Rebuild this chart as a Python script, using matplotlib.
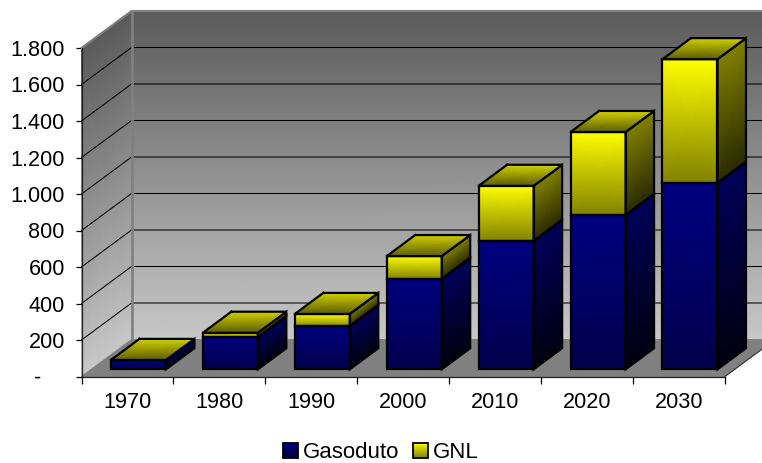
import matplotlib
matplotlib.use("Agg")
import matplotlib.pyplot as plt
import numpy as np
from matplotlib.colors import LinearSegmentedColormap, to_rgb
from matplotlib.patches import Patch, Rectangle
from matplotlib.legend_handler import HandlerBase

plt.rcParams['font.family'] = ['Liberation Sans', 'DejaVu Sans']

years = ['1970', '1980', '1990', '2000', '2010', '2020', '2030']
gasoduto = [51, 177, 237, 495, 703, 845, 1021]
gnl = [0, 23, 66, 125, 302, 455, 678]
y_ticks = [0, 200, 400, 600, 800, 1000, 1200, 1400, 1600, 1800]
y_labels = ['-    ', '200', '400', '600', '800', '1.000', '1.200', '1.400', '1.600', '1.800']

W, H = 762, 463
fig = plt.figure(figsize=(W / 100, H / 100), dpi=100, facecolor='white')
L, R, B, T = 81.5, 725.0, 376.5, 48.0
ax = fig.add_axes([L / W, 1 - B / H, (R - L) / W, (B - T) / H])
ax.set_xlim(0, 7)
ax.set_ylim(0, 1800)
ax.patch.set_visible(False)

# oblique projection expressed in data units per unit of depth
DX = 50 * 7 / (R - L)
DY = 37 * 1800 / (B - T)


def proj(x, y, d):
    return x + d * DX, y + d * DY


def face(p_tl, p_tr, p_bl, p_br, c_top, c_bot, z, edge='black', lw=1.6):
    X = np.array([[p_bl[0], p_br[0]], [p_tl[0], p_tr[0]]])
    Y = np.array([[p_bl[1], p_br[1]], [p_tl[1], p_tr[1]]])
    C = np.array([[0.0, 0.0], [1.0, 1.0]])
    cmap = LinearSegmentedColormap.from_list('f', [c_bot, c_top])
    ax.pcolormesh(X, Y, C, shading='gouraud', cmap=cmap, vmin=0, vmax=1,
                  zorder=z, clip_on=False, antialiased=False)
    if edge:
        ax.plot([p_tl[0], p_tr[0], p_br[0], p_bl[0], p_tl[0]],
                [p_tl[1], p_tr[1], p_br[1], p_bl[1], p_tl[1]],
                color=edge, lw=lw, zorder=z + 0.1, clip_on=False,
                solid_joinstyle='miter', solid_capstyle='projecting')


TOP = y_ticks[-1]
# walls and floor
face(proj(0, TOP, 1), proj(7, TOP, 1), proj(0, 0, 1), proj(7, 0, 1), '#5a5a5a', '#c8c8c8', 1, edge=None)
face(proj(0, TOP, 0), proj(0, TOP, 1), proj(0, 0, 0), proj(0, 0, 1), '#5a5a5a', '#c8c8c8', 1, edge=None)
face(proj(0, 0, 1), proj(7, 0, 1), proj(0, 0, 0), proj(7, 0, 0), '#808080', '#808080', 1, edge=None)

for t in y_ticks[1:-1]:
    xs, ys = zip(proj(0, t, 0), proj(0, t, 1), proj(7, t, 1))
    ax.plot(xs, ys, color='black', lw=0.75, zorder=1.5, clip_on=False)
xs, ys = zip(proj(0, TOP, 0), proj(0, TOP, 1), proj(7, TOP, 1))
ax.plot(xs, ys, color='#808080', lw=1.5, zorder=1.6, clip_on=False)
xs, ys = zip(proj(0, 0, 1), proj(0, TOP, 1))
ax.plot(xs, ys, color='#808080', lw=1.9, zorder=1.6, clip_on=False)
xs, ys = zip(proj(7, 0, 0), proj(7, 0, 1))
ax.plot(xs, ys, color='#333333', lw=0.75, zorder=1.6, clip_on=False)

# bars
d0, d1 = 0.195, 0.765
bw = 55 * 7 / (R - L)
shift = 1.2 * 7 / (R - L)
sc = {'blue': ('#000080', '#00004a', '#00005a', '#000010'),
      'yellow': ('#ffff00', '#808000', '#808000', '#2a2a00')}
for i, (g, n) in enumerate(zip(gasoduto, gnl)):
    x0 = i + 0.5 - bw / 2 + shift
    x1 = x0 + bw
    z = 3 + i
    segs = [(0, g, 'blue')] + ([(g, g + n, 'yellow')] if n > 0 else [])
    for lo, hi, name in segs:
        c = sc[name]
        face(proj(x0, hi, d0), proj(x1, hi, d0), proj(x0, lo, d0), proj(x1, lo, d0), c[0], c[1], z)
        face(proj(x1, hi, d0), proj(x1, hi, d1), proj(x1, lo, d0), proj(x1, lo, d1), c[2], c[3], z)
    h = g + n
    face(proj(x0, h, d1), proj(x1, h, d1), proj(x0, h, d0), proj(x1, h, d0), '#d2d200', '#5a5a00', z + 0.3)

# axes
for s in ('top', 'right'):
    ax.spines[s].set_visible(False)
for s in ('left', 'bottom'):
    ax.spines[s].set_linewidth(0.9)
    ax.spines[s].set_color('#202020')
    ax.spines[s].set_zorder(2)
ax.set_yticks(y_ticks)
ax.set_yticklabels(y_labels)
ax.set_xticks(range(8))
ax.set_xticklabels([])
ax.set_xticks(np.arange(7) + 0.5, years, minor=True)
ax.tick_params(axis='y', which='major', length=4, width=0.9, pad=8, labelsize=15.6)
ax.tick_params(axis='x', which='major', length=5, width=0.9)
ax.tick_params(axis='x', which='minor', length=0, pad=11, labelsize=15.6)


class GradientHandler(HandlerBase):
    def __init__(self, c_top, c_bot):
        super().__init__()
        self.c_top, self.c_bot = np.array(to_rgb(c_top)), np.array(to_rgb(c_bot))

    def create_artists(self, legend, orig_handle, xdescent, ydescent, width, height, fontsize, trans):
        arts = []
        n = 16
        for k in range(n):
            f = (k + 0.5) / n
            col = self.c_bot * (1 - f) + self.c_top * f
            arts.append(Rectangle((-xdescent, -ydescent + height * k / n), width, height / n * 1.05,
                                  facecolor=col, edgecolor='none', transform=trans))
        arts.append(Rectangle((-xdescent, -ydescent), width, height, facecolor='none',
                              edgecolor='black', lw=1.3, transform=trans))
        return arts


handles = [Patch(label='Gasoduto'), Patch(label='GNL')]
fig.legend(handles=handles, loc='center', bbox_to_anchor=(381 / W, 1 - 452.5 / H), ncol=2,
           frameon=False, fontsize=16, handlelength=0.66, handleheight=0.66,
           handletextpad=0.25, columnspacing=0.6, borderpad=0,
           handler_map={handles[0]: GradientHandler('#000080', '#00003a'),
                        handles[1]: GradientHandler('#ffff00', '#808000')})

fig.savefig('out.png', dpi=100, facecolor='white')
